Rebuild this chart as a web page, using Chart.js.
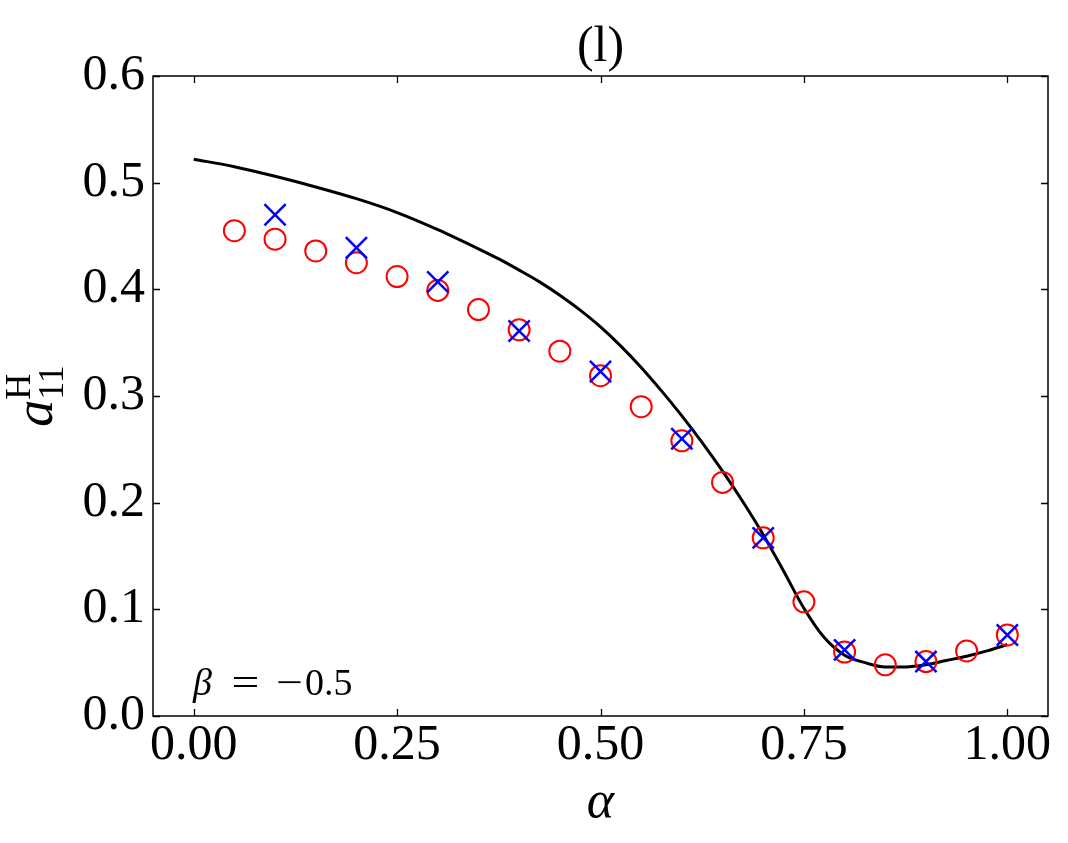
<!DOCTYPE html>
<html>
<head>
<meta charset="utf-8">
<script src="https://cdn.jsdelivr.net/npm/chart.js@4"></script>
<style>
html,body{margin:0;padding:0;background:#fff;}
#wrap{width:1068px;height:843px;}
</style>
</head>
<body>
<div id="wrap"><canvas id="c" width="1068" height="843"></canvas></div>
<script>
// ---- data ----
const curveX = [0,0.05,0.1,0.15,0.2,0.25,0.3,0.35,0.375,0.4,0.425,0.45,0.475,0.5,0.525,0.55,0.575,0.6,0.625,0.65,0.675,0.7,0.725,0.75,0.775,0.8,0.825,0.85,0.875,0.9,0.925,0.95,0.975,1.0];
const curveY = [0.522,0.515,0.506,0.496,0.485,0.472,0.456,0.438,0.4285,0.418,0.407,0.3945,0.3805,0.3648,0.3468,0.3268,0.3048,0.2813,0.2563,0.2295,0.2008,0.170,0.136,0.101,0.0735,0.057,0.050,0.046,0.046,0.048,0.052,0.056,0.061,0.067];
const circleX = [0.05,0.10,0.15,0.20,0.25,0.30,0.35,0.40,0.45,0.50,0.55,0.60,0.65,0.70,0.75,0.80,0.85,0.90,0.95,1.00];
const circleY = [0.455,0.447,0.436,0.425,0.412,0.399,0.381,0.362,0.342,0.319,0.290,0.258,0.219,0.167,0.107,0.060,0.048,0.051,0.061,0.076];
const crossX = [0.1,0.2,0.3,0.4,0.5,0.6,0.7,0.8,0.9,1.0];
const crossY = [0.470,0.439,0.407,0.361,0.323,0.260,0.167,0.062,0.051,0.076];
const xTicks = [0,0.25,0.5,0.75,1.0];
const yTicks = [0,0.1,0.2,0.3,0.4,0.5,0.6];
const xTickLabels = ['0.00','0.25','0.50','0.75','1.00'];
const yTickLabels = ['0.0','0.1','0.2','0.3','0.4','0.5','0.6'];
const titleText = '(l)';
const annotationParts = ['β', '=', '−', '0.5'];

const FONT = '"Liberation Serif", "DejaVu Serif", serif';
const zip = (xs, ys) => xs.map((x, i) => ({x: x, y: ys[i]}));

const framePlugin = {
  id: 'frame',
  afterDatasetsDraw(chart) {
    const ctx = chart.ctx;
    const a = chart.chartArea;
    const xs = chart.scales.x, ys = chart.scales.y;
    ctx.save();
    ctx.strokeStyle = '#000';
    ctx.lineWidth = 1.5;
    ctx.strokeRect(a.left, a.top, a.right - a.left, a.bottom - a.top);
    const tl = 7;
    ctx.beginPath();
    xTicks.forEach(v => {
      const px = Math.round(xs.getPixelForValue(v)) + 0.5;
      ctx.moveTo(px, a.bottom); ctx.lineTo(px, a.bottom - tl);
      ctx.moveTo(px, a.top); ctx.lineTo(px, a.top + tl);
    });
    yTicks.forEach(v => {
      const py = Math.round(ys.getPixelForValue(v)) + 0.5;
      ctx.moveTo(a.left, py); ctx.lineTo(a.left + tl, py);
      ctx.moveTo(a.right, py); ctx.lineTo(a.right - tl, py);
    });
    ctx.lineWidth = 1.3;
    ctx.stroke();

    // title
    ctx.fillStyle = '#000';
    ctx.font = '50px ' + FONT;
    ctx.textAlign = 'center';
    ctx.textBaseline = 'alphabetic';
    ctx.fillText(titleText, (a.left + a.right) / 2, 61);

    // x label alpha
    ctx.font = 'italic 52px ' + FONT;
    ctx.fillText('α', (a.left + a.right) / 2, 817);

    // annotation  β = −0.5
    const by = a.bottom - 21;
    ctx.textAlign = 'left';
    ctx.font = 'italic 38px ' + FONT;
    ctx.fillText(annotationParts[0], a.left + 40, by);
    ctx.textAlign = 'center';
    ctx.font = '38px ' + FONT;
    ctx.save();
    ctx.translate(a.left + 92.5, by);
    ctx.scale(1.3, 1);
    ctx.fillText(annotationParts[1], 0, 0);
    ctx.restore();
    ctx.save();
    ctx.translate(a.left + 136.5, by);
    ctx.scale(1.25, 1);
    ctx.fillText(annotationParts[2], 0, 0);
    ctx.restore();
    ctx.textAlign = 'left';
    ctx.fillText(annotationParts[3], a.left + 152, by);

    // y label a_11^H rotated
    ctx.save();
    ctx.translate(52, (a.top + a.bottom) / 2);
    ctx.rotate(-Math.PI / 2);
    ctx.font = 'italic 54px ' + FONT;
    const aw = ctx.measureText('a').width;
    ctx.font = '36px ' + FONT;
    const sw = Math.max(ctx.measureText('11').width, ctx.measureText('H').width);
    const total = aw + sw;
    let x0 = -total / 2;
    ctx.textAlign = 'left';
    ctx.font = 'italic 54px ' + FONT;
    ctx.fillText('a', x0, 0);
    ctx.font = '36px ' + FONT;
    ctx.fillText('11', x0 + aw, 11);
    ctx.fillText('H', x0 + aw, -22);
    ctx.restore();

    ctx.restore();
  }
};

new Chart(document.getElementById('c'), {
  type: 'scatter',
  data: {
    datasets: [
      {
        label: 'theory',
        type: 'line',
        data: zip(curveX, curveY),
        borderColor: '#000',
        borderWidth: 3,
        pointRadius: 0,
        fill: false,
        cubicInterpolationMode: 'monotone',
        order: 3
      },
      {
        label: 'circles',
        data: zip(circleX, circleY),
        pointStyle: 'circle',
        pointRadius: 10.5,
        pointBorderWidth: 2,
        pointBorderColor: '#ff0000',
        pointBackgroundColor: 'rgba(0,0,0,0)',
        order: 2
      },
      {
        label: 'crosses',
        data: zip(crossX, crossY),
        pointStyle: 'crossRot',
        pointRadius: 15,
        pointBorderWidth: 2.5,
        pointBorderColor: '#0000ff',
        pointBackgroundColor: '#0000ff',
        order: 1
      }
    ]
  },
  options: {
    responsive: false,
    animation: false,
    events: [],
    layout: { padding: { top: 76, right: 20, left: 0, bottom: 0 } },
    plugins: { legend: { display: false }, tooltip: { enabled: false } },
    scales: {
      x: {
        type: 'linear',
        min: -0.05, max: 1.05,
        grid: { display: false, drawTicks: false },
        border: { display: false },
        afterBuildTicks: s => { s.ticks = xTicks.map(v => ({value: v})); },
        afterFit: s => { s.height = 127; },
        ticks: {
          color: '#000',
          padding: 0,
          font: { family: FONT, size: 50 },
          callback: (v) => { const i = xTicks.indexOf(v); return i >= 0 ? xTickLabels[i] : ''; }
        }
      },
      y: {
        type: 'linear',
        min: 0, max: 0.6,
        grid: { display: false, drawTicks: false },
        border: { display: false },
        afterBuildTicks: s => { s.ticks = yTicks.map(v => ({value: v})); },
        afterFit: s => { s.width = 153; },
        ticks: {
          color: '#000',
          padding: 8,
          font: { family: FONT, size: 50 },
          callback: (v) => { const i = yTicks.indexOf(v); return i >= 0 ? yTickLabels[i] : ''; }
        }
      }
    }
  },
  plugins: [framePlugin]
});
</script>
</body>
</html>
